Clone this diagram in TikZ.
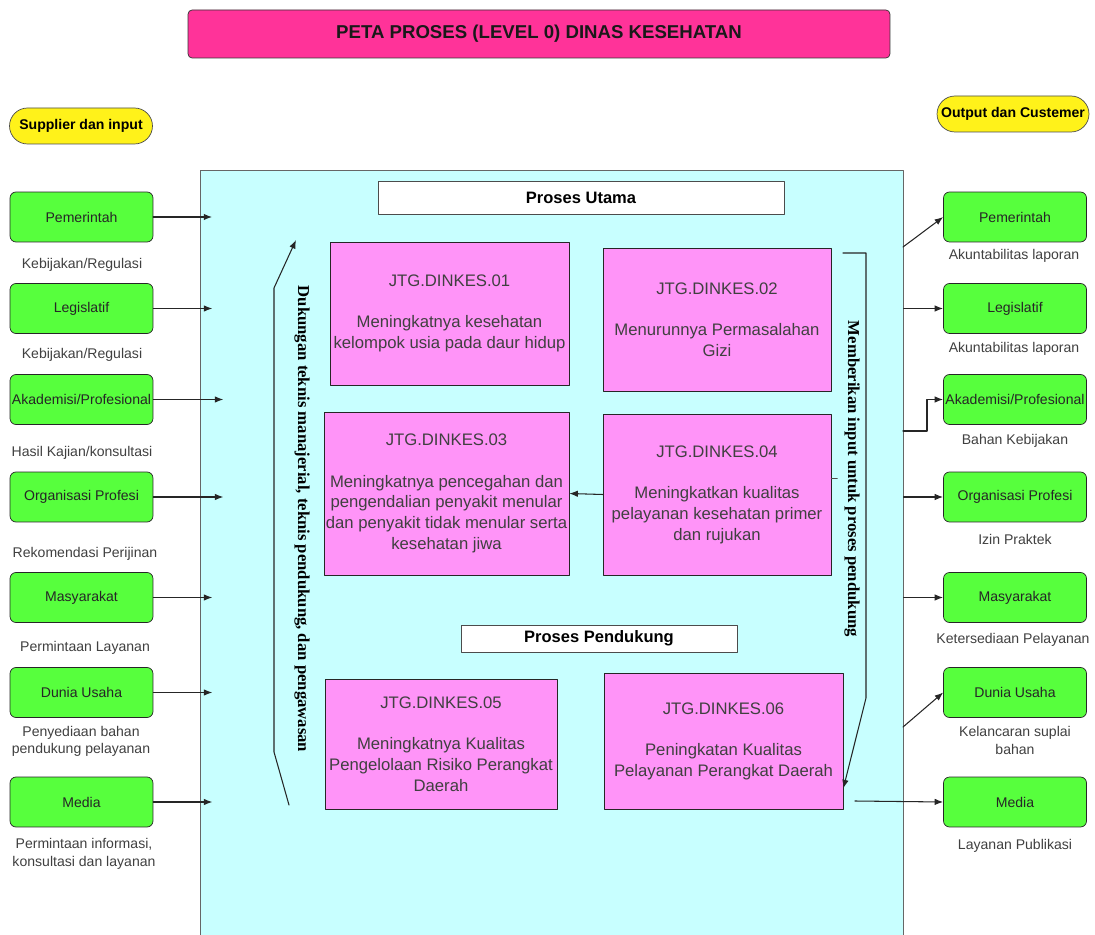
\documentclass[tikz,border=0pt]{standalone}
\usepackage{fontspec}
\setmainfont{Liberation Sans}
\newfontfamily\vertfont{Liberation Serif}
\usetikzlibrary{arrows.meta, calc}
\definecolor{titlepink}{HTML}{FF3399}
\definecolor{procpink}{HTML}{FF94F8}
\definecolor{boxgreen}{HTML}{57FF3D}
\definecolor{tagyellow}{HTML}{FFF21A}
\definecolor{bgcyan}{HTML}{C8FFFF}

\begin{document}
\begin{tikzpicture}[x=0.02cm, y=-0.02cm, >={Latex[length=1.7mm,width=1.3mm]}, line cap=round, line join=round,
	actor/.style={draw=black!85, fill=boxgreen, rounded corners=3.4pt, minimum width=2.86cm, minimum height=1cm, inner sep=0pt, text=black!85, font=\fontsize{8}{9.6}\selectfont},
	flow/.style={text=black!75, align=center, font=\fontsize{8}{10}\selectfont},
	proc/.style={draw=black!85, fill=procpink, align=center, inner sep=0pt, text=black!75, font=\fontsize{9.5}{11.8}\selectfont},
	head/.style={draw=black!70, fill=white, inner sep=0pt, minimum height=0.66cm, font=\bfseries\fontsize{9.4}{11}\selectfont},
	tag/.style={draw=black!70, fill=tagyellow, rounded corners=0.36cm, minimum height=0.72cm, inner sep=0pt, font=\bfseries\fontsize{8}{9.6}\selectfont},
	vtext/.style={rotate=-90, font=\vertfont\bfseries\fontsize{9.5}{11}\selectfont},
	arr/.style={->, draw=black!85, line width=0.6pt}]
	
	\useasboundingbox (0,0) rectangle (1095,935);
	
	% ===== Title and column tags =====
	\node[draw=black!80, fill=titlepink, rounded corners=2.3pt, minimum width=14.04cm, minimum height=0.96cm, text=black!90, font=\bfseries\fontsize{10.6}{12}\selectfont] (title) at (539,34) {PETA PROSES (LEVEL 0) DINAS KESEHATAN};
	\node[tag, minimum width=2.86cm] (supplier) at (81,126) {Supplier dan input};
	\node[tag, minimum width=3.04cm] (customer) at (1013,114) {Output dan Custemer};
	
	% ===== Middle: process area =====
	\node[draw=black!60, fill=bgcyan, minimum width=14.06cm, minimum height=15.6cm, anchor=north west, inner sep=0pt] (main) at (200,170) {};
	\node[head, minimum width=8.12cm] (utama) at (581,198) {Proses Utama};
	\node[head, minimum width=5.52cm, minimum height=0.54cm] (dukung) at (599,638.5) {Proses Pendukung};
	
	\node[proc, minimum width=4.78cm, minimum height=2.86cm] (box01) at (449.5,313.5) {JTG.DINKES.01\\[11.8pt]Meningkatnya kesehatan\\kelompok usia pada daur hidup};
	\node[proc, minimum width=4.56cm, minimum height=2.86cm] (box02) at (717,319.5) {JTG.DINKES.02\\[11.8pt]Menurunnya Permasalahan\\Gizi};
	\node[proc, minimum width=4.9cm, minimum height=3.26cm] (box03) at (446.5,493.5) {JTG.DINKES.03\\[11.8pt]Meningkatnya pencegahan dan\\pengendalian penyakit menular\\dan penyakit tidak menular serta\\kesehatan jiwa};
	\node[proc, minimum width=4.56cm, minimum height=3.22cm] (box04) at (717,494.5) {JTG.DINKES.04\\[11.8pt]Meningkatkan kualitas\\pelayanan kesehatan primer\\dan rujukan};
	\node[proc, minimum width=4.64cm, minimum height=2.6cm] (box05) at (441,744) {JTG.DINKES.05\\[11.8pt]Meningkatnya Kualitas\\Pengelolaan Risiko Perangkat\\Daerah};
	\node[proc, minimum width=4.78cm, minimum height=2.72cm] (box06) at (723.5,741) {JTG.DINKES.06\\[11.8pt]Peningkatan Kualitas\\Pelayanan Perangkat Daerah};
	
	\draw[arr] (box04.west) -- (box03.east);
	\draw[black!70] ($(box04.east)+(0,-16)$) -- ++(6,0);
	
	% support arrow on the left
	\node[vtext] (dukungan) at (302,519) {Dukungan teknis manajerial, teknis pendukung, dan pengawasan};
	\coordinate (duS) at (289,805);
	\coordinate (duA) at (274,752);
	\coordinate (duB) at (274,288);
	\coordinate (duE) at (296,240);
	\draw[arr] (duS) -- (duA) -- (duB) -- (duE);
	
	% input bracket on the right
	\node[vtext] (masukan) at (852,479) {Memberikan input untuk proses pendukung};
	\coordinate (brS) at (843,253);
	\coordinate (brK) at (866,698);
	\draw[arr] (brS) -- (brS -| brK) -- (brK) -- ($(box06.south east)+(0,-21)$);
	
	% ===== Left: suppliers =====
	\node[actor] (in-pem) at (81.5,217) {Pemerintah};
	\node[actor] (in-leg) at (81.5,308.5) {Legislatif};
	\node[actor] (in-akd) at (81.5,399.5) {Akademisi/Profesional};
	\node[actor] (in-org) at (81.5,497) {Organisasi Profesi};
	\node[actor] (in-mas) at (81.5,597.5) {Masyarakat};
	\node[actor] (in-dun) at (81.5,692.5) {Dunia Usaha};
	\node[actor] (in-med) at (81.5,802) {Media};
	
	\node[flow] (f-pem) at (82,265) {Kebijakan/Regulasi};
	\node[flow] (f-leg) at (82,355) {Kebijakan/Regulasi};
	\node[flow] (f-akd) at (82,453) {Hasil Kajian/konsultasi};
	\node[flow] (f-org) at (85,554) {Rekomendasi Perijinan};
	\node[flow] (f-mas) at (85,648) {Permintaan Layanan};
	\node[flow] (f-dun) at (81,741.5) {Penyediaan bahan\\pendukung pelayanan};
	\node[flow] (f-med) at (84,854) {Permintaan informasi,\\konsultasi dan layanan};
	
	\draw[arr, line width=0.9pt] (in-pem.east) -- ++(59,0);
	\draw[arr] (in-leg.east) -- ++(59,0);
	\draw[arr] (in-akd.east) -- ++(70,0);
	\draw[arr] (in-org.east) -- ++(70,0);
	\draw[arr] (in-mas.east) -- ++(59,0);
	\draw[arr] (in-dun.east) -- ++(59,0);
	\draw[arr] (in-med.east) -- ++(59,0);
	
	% ===== Right: customers =====
	\node[actor] (out-pem) at (1015,217) {Pemerintah};
	\node[actor] (out-leg) at (1015,308.5) {Legislatif};
	\node[actor] (out-akd) at (1015,399.5) {Akademisi/Profesional};
	\node[actor] (out-org) at (1015,497) {Organisasi Profesi};
	\node[actor] (out-mas) at (1015,597.5) {Masyarakat};
	\node[actor] (out-dun) at (1015,692.5) {Dunia Usaha};
	\node[actor] (out-med) at (1015,802) {Media};
	
	\node[flow] (g-pem) at (1014,256) {Akuntabilitas laporan};
	\node[flow] (g-leg) at (1014,349) {Akuntabilitas laporan};
	\node[flow] (g-akd) at (1015,441) {Bahan Kebijakan};
	\node[flow] (g-org) at (1015,539) {Izin Praktek};
	\node[flow] (g-mas) at (1013,640) {Ketersediaan Pelayanan};
	\node[flow] (g-dun) at (1015,740.5) {Kelancaran suplai\\bahan};
	\node[flow] (g-med) at (1015,846) {Layanan Publikasi};
	
	\coordinate (pemS) at (903,247);
	\coordinate (akdS) at (903,431);
	\coordinate (dunS) at (903,727);
	\coordinate (medS) at (855,801);
	\draw[arr] (pemS) -- (out-pem.west);
	\draw[arr] (main.east |- out-leg) -- (out-leg.west);
	\draw[arr] (akdS) -- ++(24,0) |- (out-akd.west);
	\draw[arr] (main.east |- out-org) -- (out-org.west);
	\draw[arr] (main.east |- out-mas) -- (out-mas.west);
	\draw[arr] (dunS) -- (out-dun.west);
	\draw[arr] (medS) -- (out-med.west);
	
\end{tikzpicture}
\end{document}
